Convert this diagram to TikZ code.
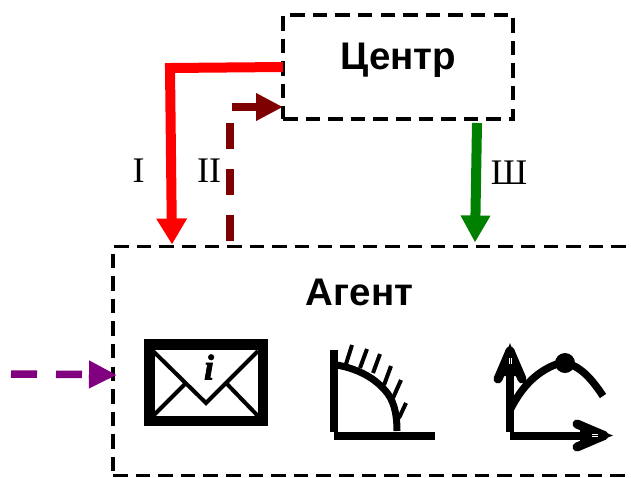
\documentclass[tikz,border=0pt]{standalone}
\usepackage{fontspec}
\setmainfont{Liberation Serif}
\newfontfamily\lsans{Liberation Sans}
\newfontface\infofont{Liberation Serif Bold Italic}[FakeBold=2]
\usetikzlibrary{arrows.meta,calc}
\definecolor{dkred}{HTML}{7F0000}
\definecolor{myred}{HTML}{FF0000}
\definecolor{mygreen}{HTML}{008000}
\definecolor{mypurple}{HTML}{800080}
\tikzset{
  boxstyle/.style={draw=black,line width=3.8pt,dash pattern=on 14.5pt off 8.1pt,rectangle,inner sep=0pt,outer sep=0pt},
  titlelbl/.style={font=\lsans\bfseries\fontsize{38.5}{38.5}\selectfont,inner sep=0pt},
  romanlbl/.style={font=\fontsize{36}{36}\selectfont,inner sep=0pt},
  flowline/.style={line width=10pt},
  dashline/.style={line width=7.5pt},
  bighead/.style={-{Triangle[length=26pt,width=29pt]}},
  midhead/.style={-{Triangle[length=27pt,width=26pt]}},
  iconthick/.style={line width=8pt},
  iconthin/.style={line width=4pt},
}
\begin{document}
\begin{tikzpicture}[x=1pt,y=-1pt]
\useasboundingbox (0,0) rectangle (631,477);
\clip (0,0) rectangle (631,477);
\node[boxstyle,minimum width=230pt,minimum height=104pt,anchor=north west] (centr) at (283,15) {};
\node[boxstyle,minimum width=560pt,minimum height=229pt,anchor=north west] (agent) at (113,246.5) {};
\node[titlelbl] (centrlbl) at (398.5,60) {Центр};
\node[titlelbl] (agentlbl) at (359.5,292) {Агент};
\node[romanlbl] (l1) at (138.5,171) {I};
\node[romanlbl] (l2) at (209,171) {II};
\node[romanlbl] (l3) at (509,173) {Ш};
% connectors
\coordinate (redstart) at ($(centr.north west)+(0,52)$);
\coordinate (redcorner) at (170,68);
\coordinate (redend) at ($(agent.north west)+(59,-2)$);
\draw[flowline,myred,bighead,line join=miter] (redstart) -- (redcorner) -- (redend);
\coordinate (drstart) at ($(agent.north west)+(117,-6)$);
\coordinate (drtop) at (230,123);
\coordinate (drh) at (232,107);
\coordinate (drend) at ($(centr.north west)+(0,92)$);
\draw[dashline,dkred,dash pattern=on 26pt off 20pt] (drstart) -- (drtop);
\draw[dashline,dkred,midhead] (drh) -- (drend);
\coordinate (gstart) at ($(centr.south west)+(194,4)$);
\coordinate (gend) at ($(agent.north west)+(362,-4)$);
\draw[flowline,mygreen,-{Triangle[length=27pt,width=28pt]}] (gstart) -- (gend);
\coordinate (pstart) at (11,374);
\coordinate (pend) at ($(agent.north west)+(4,128.5)$);
\coordinate (pmid) at (86,374.5);
\draw[dashline,mypurple,dash pattern=on 26pt off 19pt] (pstart) -- (pmid);
\draw[dashline,mypurple,-{Triangle[length=28pt,width=26pt]},shorten <=3pt] (pmid) -- (pend);
% envelope
\draw[line width=10.5pt] (149.25,344.25) rectangle (262.75,420.75);
\draw[iconthin] (153,351) -- (206,403) -- (258,351);
\draw[iconthin] (153,416) -- (185,384);
\draw[iconthin] (258,416) -- (227,384);
\node[inner sep=0pt,font=\infofont\fontsize{36}{36}\selectfont] (infoi) at (209,367) {i};
% boundary icon
\draw[iconthick] (334,350) -- (334,432);
\draw[iconthick] (334,435.5) -- (435,435.5);
\draw[line width=7pt] (337,365) .. controls (358,369) and (376,378) .. (388,394) .. controls (395,404) and (397,417) .. (397,431);
\draw[iconthin] (346,364) -- (352,345);
\draw[iconthin] (360,368) -- (367,349);
\draw[iconthin] (373,373) -- (380,354);
\draw[iconthin] (384,385) -- (391,366);
\draw[iconthin] (393,398) -- (401,380);
\draw[iconthin] (399,418) -- (406,403);
% graph icon
\draw[iconthick] (510,432) -- (510,352);
\draw[iconthick] (510,435.5) -- (605,435.5);
\fill (510,343) -- (522,376) -- (498,376) -- cycle;
\draw[line width=9pt,line cap=round] (510,351) -- (498,379);
\draw[line width=9pt,line cap=round] (510,351) -- (522,379);
\fill (613,435.5) -- (580,423) -- (580,448) -- cycle;
\draw[line width=9pt,line cap=round] (604,435.5) -- (577,424);
\draw[line width=9pt,line cap=round] (604,435.5) -- (577,447);
\draw[line width=7.5pt] (510,410) .. controls (522,386) and (538,370) .. (560,363) .. controls (576,362) and (590,376) .. (603,396);
\fill (565,363) circle (10pt);
\draw[white,line width=0.7pt] (509,358) -- (509,364) (511,358) -- (511,364);
\draw[white,line width=0.7pt] (592,434.5) -- (598,434.5) (592,436.5) -- (598,436.5);
\end{tikzpicture}
\end{document}
